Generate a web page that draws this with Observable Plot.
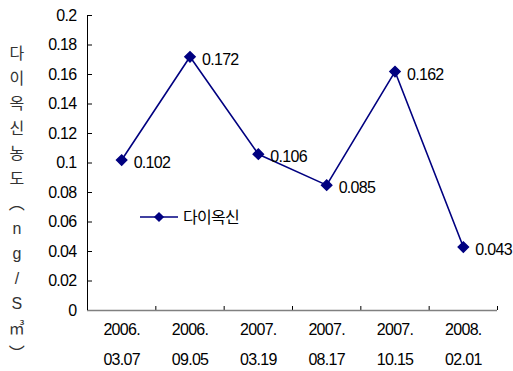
<!DOCTYPE html>
<html>
<head>
<meta charset="utf-8">
<script src="https://cdn.jsdelivr.net/npm/d3@7"></script>
<script src="https://cdn.jsdelivr.net/npm/@observablehq/plot@0.6"></script>
<style>
  html, body { margin: 0; padding: 0; background: #fff; }
  svg text { letter-spacing: -0.7px; }
</style>
</head>
<body>
<div id="chart"></div>
<script>
// Sampling dates (year / month.day) and dioxin concentration (ng/S㎥)
const dateYears = ["2006.", "2006.", "2007.", "2007.", "2007.", "2008."];
const dateDays = ["03.07", "09.05", "03.19", "08.17", "10.15", "02.01"];
const dioxin = [0.102, 0.172, 0.106, 0.085, 0.162, 0.043];
const yTicks = [0, 0.02, 0.04, 0.06, 0.08, 0.1, 0.12, 0.14, 0.16, 0.18, 0.2];
const seriesName = "다이옥신";
const yTitle = ["다", "이", "옥", "신", "농", "도", "︵", "n", "g", "/", "S", "㎥", "︶"];

const rows = dioxin.map((v, i) => ({i, v, label: `${dateYears[i]}\n${dateDays[i]}`}));
const bounds = d3.range(1, rows.length + 1);

const navy = "#000080";
const font = "'Liberation Sans', Arial, 'Noto Sans CJK KR', sans-serif";

const chart = Plot.plot({
  width: 513,
  height: 371,
  marginLeft: 87,
  marginRight: 16,
  marginTop: 15,
  marginBottom: 61,
  style: {fontFamily: font, fontSize: "16px", color: "#000", background: "#fff"},
  x: {domain: [0, rows.length]},
  y: {domain: [0, 0.2]},
  marks: [
    // y axis: inward ticks, labels to the left
    Plot.axisY({ticks: yTicks, tickSize: -5, tickPadding: 16, tickFormat: d => String(+d.toFixed(2)), stroke: "#000", fontSize: 16, label: null}),
    // x axis: inward ticks at category boundaries, no labels
    Plot.axisX({ticks: bounds, tickSize: -4, tickFormat: () => "", label: null, stroke: "#000"}),
    Plot.ruleY([0], {stroke: "#808080", strokeWidth: 1.5}),
    Plot.ruleX([0], {stroke: "#000", strokeWidth: 1}),
    // two-line date labels under each category
    Plot.text(rows, {x: d => d.i + 0.5, frameAnchor: "bottom", text: "label", dy: 30, lineAnchor: "middle", lineHeight: 1.85, fontSize: 16}),
    // vertical axis title, one character per line
    Plot.text([yTitle.join("\n")], {frameAnchor: "left", dx: -71, dy: 38, text: d => d, textAnchor: "middle", lineHeight: 1.56, fontSize: 16, fill: "#333"}),
    Plot.line(rows, {x: d => d.i + 0.5, y: "v", stroke: navy, strokeWidth: 1.6}),
    Plot.dot(rows, {x: d => d.i + 0.5, y: "v", symbol: "diamond2", r: 4.6, fill: navy, stroke: navy}),
    Plot.text(rows, {x: d => d.i + 0.5, y: "v", text: d => String(d.v), textAnchor: "start", dx: 12, dy: 3, fontSize: 16})
  ]
});

// in-plot legend
const svg = d3.select(chart);
const lg = svg.append("g").attr("transform", "translate(140,217)");
lg.append("line").attr("x1", 0).attr("x2", 38).attr("y1", 0).attr("y2", 0).attr("stroke", navy).attr("stroke-width", 1.6);
lg.append("path").attr("d", d3.symbol(d3.symbolDiamond2, Math.PI * 4.6 * 4.6)()).attr("transform", "translate(19,0)").attr("fill", navy);
lg.append("text").attr("x", 43).attr("y", 0).attr("dy", "0.36em").attr("text-anchor", "start")
  .attr("font-size", 16).attr("fill", "#000").text(seriesName);

document.getElementById("chart").appendChild(chart);
</script>
</body>
</html>
